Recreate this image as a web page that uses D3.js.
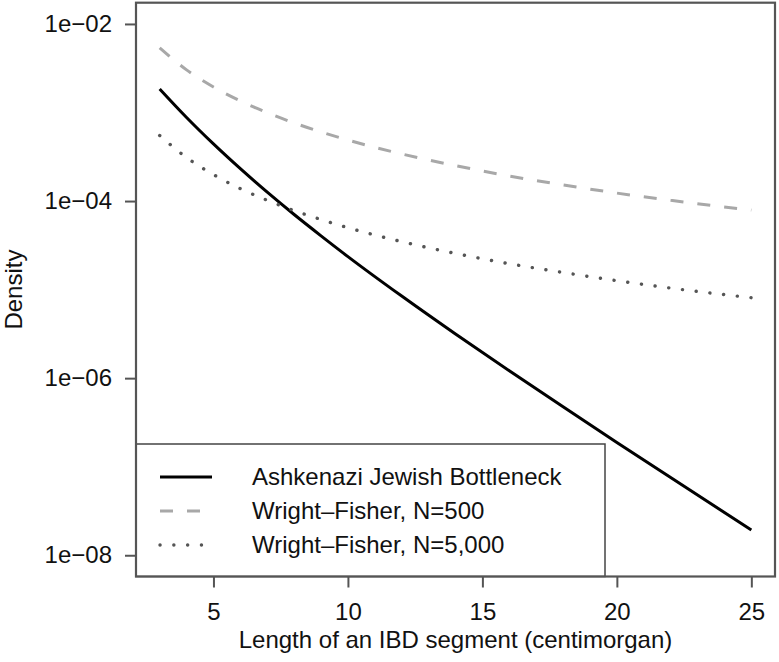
<!DOCTYPE html>
<html>
<head>
<meta charset="utf-8">
<script src="https://cdn.jsdelivr.net/npm/d3@7"></script>
<style>
  body { margin: 0; background: #fff; }
  svg text { font-family: "Liberation Sans", Arial, Helvetica, sans-serif; fill: #111; }
</style>
</head>
<body>
<div id="container"></div>
<script>
// segment length (cM) and density
var lengths  = [3, 4, 5, 6, 7, 8, 9, 10, 12, 14, 16, 18, 20, 22, 25];
var ashkenazi = [1.845e-3, 8.79e-4, 4.42e-4, 2.32e-4, 1.26e-4, 7.05e-5, 4.05e-5, 2.36e-5, 8.45e-6, 3.15e-6, 1.21e-6, 4.74e-7, 1.88e-7, 7.53e-8, 1.93e-8];
var wf500    = [5.37e-3, 3.03e-3, 1.94e-3, 1.35e-3, 9.95e-4, 7.62e-4, 6.04e-4, 4.89e-4, 3.40e-4, 2.51e-4, 1.92e-4, 1.52e-4, 1.23e-4, 1.02e-4, 7.9e-5];
var wf5000   = [5.5e-4, 3.10e-4, 1.99e-4, 1.38e-4, 1.02e-4, 7.8e-5, 6.18e-5, 5.0e-5, 3.48e-5, 2.56e-5, 1.96e-5, 1.56e-5, 1.26e-5, 1.04e-5, 8.1e-6];

var seriesNames = ["Ashkenazi Jewish Bottleneck", "Wright\u2013Fisher, N=500", "Wright\u2013Fisher, N=5,000"];
var xTicks = [5, 10, 15, 20, 25];
var yTicks = [1e-2, 1e-4, 1e-6, 1e-8];
var yTickLabels = ["1e\u221202", "1e\u221204", "1e\u221206", "1e\u221208"];
var xTitle = "Length of an IBD segment (centimorgan)";
var yTitle = "Density";

var width = 779, height = 662;
var plotLeft = 136, plotRight = 775, plotTop = 2.7, plotBottom = 576.5;

var svg = d3.select("#container").append("svg")
    .attr("width", width)
    .attr("height", height);

svg.append("rect").attr("width", width).attr("height", height).attr("fill", "#fff");

// R style: limits padded by 4%
var x = d3.scaleLinear().domain([2.12, 25.88]).range([plotLeft, plotRight]);
var y = d3.scaleLog().domain([Math.pow(10, -8.24), Math.pow(10, -1.76)]).range([plotBottom, plotTop]);

var series = [
    {name: seriesNames[0], values: ashkenazi, color: "#000", width: 3, dash: null, cap: "butt"},
    {name: seriesNames[1], values: wf500, color: "#a8a8a8", width: 3, dash: "13,14", cap: "butt"},
    {name: seriesNames[2], values: wf5000, color: "#555", width: 3.4, dash: "0.1,13.7", cap: "round"}
];

var line = d3.line()
    .x(function(d) { return x(d[0]); })
    .y(function(d) { return y(d[1]); })
    .curve(d3.curveMonotoneX);

series.forEach(function(s) {
    var pts = lengths.map(function(l, i) { return [l, s.values[i]]; });
    svg.append("path")
        .datum(pts)
        .attr("fill", "none")
        .attr("stroke", s.color)
        .attr("stroke-width", s.width)
        .attr("stroke-dasharray", s.dash)
        .attr("stroke-linecap", s.cap)
        .attr("d", line);
});

// axes
var yAxis = d3.axisLeft(y)
    .tickValues(yTicks)
    .tickFormat(function(d, i) { return yTickLabels[i]; })
    .tickSize(11)
    .tickPadding(13);

var gy = svg.append("g")
    .attr("transform", "translate(" + plotLeft + ",0)")
    .call(yAxis);

var xAxis = d3.axisBottom(x)
    .tickValues(xTicks)
    .tickSize(11)
    .tickPadding(15);

var gx = svg.append("g")
    .attr("transform", "translate(0," + plotBottom + ")")
    .call(xAxis);

[gx, gy].forEach(function(g) {
    g.select(".domain").remove();
    g.selectAll(".tick line").attr("stroke", "#555").attr("stroke-width", 2);
    g.selectAll(".tick text")
        .attr("font-size", 24)
        .attr("fill", "#111")
        .style("font-family", "'Liberation Sans', Arial, Helvetica, sans-serif");
});

// legend (bottom left)
var lg = svg.append("g");
lg.append("rect")
    .attr("x", plotLeft).attr("y", 444)
    .attr("width", 605 - plotLeft).attr("height", plotBottom - 444)
    .attr("fill", "#fff")
    .attr("stroke", "#444")
    .attr("stroke-width", 1.5);

var rowY = [477, 511, 545];
series.forEach(function(s, i) {
    lg.append("line")
        .attr("x1", 160).attr("x2", 212)
        .attr("y1", rowY[i]).attr("y2", rowY[i])
        .attr("stroke", s.color)
        .attr("stroke-width", s.width)
        .attr("stroke-dasharray", s.dash)
        .attr("stroke-linecap", s.cap);
    lg.append("text")
        .attr("x", 252)
        .attr("y", rowY[i])
        .attr("dy", "0.35em")
        .attr("font-size", 24)
        .text(s.name);
});

// plot box
svg.append("rect")
    .attr("x", plotLeft).attr("y", plotTop)
    .attr("width", plotRight - plotLeft).attr("height", plotBottom - plotTop)
    .attr("fill", "none")
    .attr("stroke", "#555")
    .attr("stroke-width", 2.2);

// titles
svg.append("text")
    .attr("x", (plotLeft + plotRight) / 2)
    .attr("y", 648)
    .attr("text-anchor", "middle")
    .attr("font-size", 24)
    .text(xTitle);

svg.append("text")
    .attr("transform", "translate(22," + ((plotTop + plotBottom) / 2) + ") rotate(-90)")
    .attr("text-anchor", "middle")
    .attr("font-size", 24)
    .text(yTitle);
</script>
</body>
</html>
